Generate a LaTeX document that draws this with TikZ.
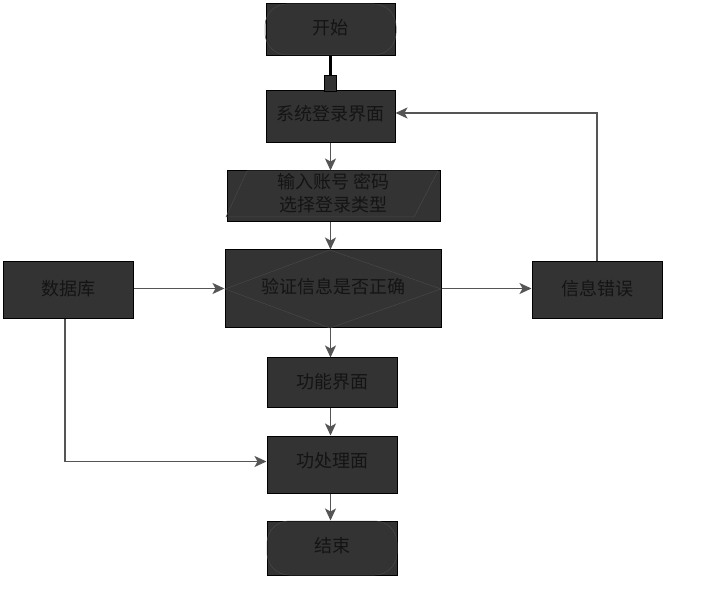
\documentclass[tikz,border=0pt]{standalone}
\usepackage{fontspec}
\newfontfamily\cjk{Noto Sans CJK SC}
\usetikzlibrary{arrows.meta,positioning}
\definecolor{boxfill}{HTML}{333333}
\definecolor{txt}{HTML}{141414}
\definecolor{inner}{HTML}{474747}
\definecolor{conn}{HTML}{555555}
\tikzset{
  box/.style={draw=black,line width=1pt,fill=boxfill,text=txt,font=\cjk\fontsize{18}{23}\selectfont,align=center,inner sep=0pt},
  lbl/.style={text=txt,font=\cjk\fontsize{18}{23}\selectfont,align=center,inner sep=0pt},
  conn/.style={draw=conn,line width=1.5pt,-{Stealth[length=12pt,width=11pt,inset=3pt]}},
  faint/.style={draw=inner,line width=0.5pt}
}
\begin{document}
\begin{tikzpicture}[x=1pt,y=-1pt]
\useasboundingbox (0,0) rectangle (728,593);
% boxes
\node[box,minimum width=129pt,minimum height=52pt] (start) at (330.5,30) {};
\node[box,minimum width=129pt,minimum height=52pt] (sys) at (330.5,117) {};
\node[box,minimum width=213pt,minimum height=51pt] (inp) at (333.5,196.5) {};
\node[box,minimum width=216pt,minimum height=78pt] (ver) at (333,289) {};
\node[box,minimum width=130pt,minimum height=57pt] (db) at (68,290.5) {};
\node[box,minimum width=130pt,minimum height=57pt] (err) at (597,290.5) {};
\node[box,minimum width=130pt,minimum height=49pt] (func) at (332,382.5) {};
\node[box,minimum width=130pt,minimum height=57pt] (proc) at (332,464.5) {};
\node[box,minimum width=130pt,minimum height=54pt] (end) at (332,548) {};
\coordinate (axis) at (330.5,0);
% faint inner shapes
\draw[faint,rounded corners=22pt] (265,4) rectangle (396,55);
\draw[faint,rounded corners=22pt] (267,521) rectangle (397,575);
\draw[faint] (247,171) -- (438,171) -- (414,217) -- (226,217) -- cycle;
\draw[faint] (330,250) -- (441,289) -- (330,328) -- (225,289) -- cycle;
% texts
\node[lbl] at ([yshift=2pt]start) {开始};
\node[lbl] at ([yshift=3pt]sys) {系统登录界面};
\node[lbl] at ([yshift=3pt]inp) {输入账号 密码\\选择登录类型};
\node[lbl] at ([yshift=2pt]ver) {验证信息是否正确};
\node[lbl] at ([yshift=2pt]db) {数据库};
\node[lbl] at ([yshift=2pt]err) {信息错误};
\node[lbl] at ([yshift=1pt]func) {功能界面};
\node[lbl] at ([yshift=4pt]proc) {功处理面};
\node[lbl] at ([yshift=2pt]end) {结束};
% top connector (odd square head)
\node[draw=black,line width=1pt,fill=boxfill,minimum width=12pt,minimum height=16pt,inner sep=0pt,anchor=south] (sq) at ([yshift=-2pt]sys.north) {};
\draw[black,line width=3pt] (start.south) -- (sq.north);
% connectors
\draw[conn] (sys.south) -- (axis |- inp.north);
\draw[conn] (axis |- inp.south) -- (axis |- ver.north);
\draw[conn] ([yshift=2pt]db.east) -- ([yshift=2pt]db.east -| ver.west);
\draw[conn] ([yshift=2pt]err.west -| ver.east) -- ([yshift=2pt]err.west);
\draw[conn] (err.north) |- ([yshift=4pt]sys.east);
\draw[conn] (axis |- ver.south) -- (axis |- func.north);
\draw[conn] (axis |- func.south) -- (axis |- proc.north);
\draw[conn] ([xshift=-3pt]db.south) |- ([yshift=3pt]proc.west);
\draw[conn] (axis |- proc.south) -- (axis |- end.north);
\end{tikzpicture}
\end{document}
